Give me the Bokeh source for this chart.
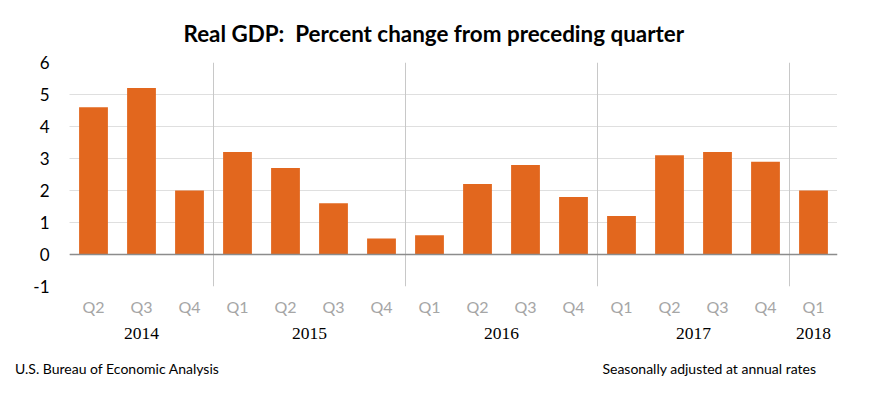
from bokeh.plotting import figure
from bokeh.models import FactorRange, Range1d, FixedTicker, Span, Div
from bokeh.layouts import column
from bokeh.embed import file_html
from bokeh.resources import INLINE

years = ["2014", "2014", "2014", "2015", "2015", "2015", "2015", "2016", "2016", "2016", "2016",
         "2017", "2017", "2017", "2017", "2018"]
quarters = ["Q2", "Q3", "Q4", "Q1", "Q2", "Q3", "Q4", "Q1", "Q2", "Q3", "Q4",
            "Q1", "Q2", "Q3", "Q4", "Q1"]
gdp = [4.6, 5.2, 2.0, 3.2, 2.7, 1.6, 0.5, 0.6, 2.2, 2.8, 1.8, 1.2, 3.1, 3.2, 2.9, 2.0]
y_ticks = [-1, 0, 1, 2, 3, 4, 5, 6]
source_note = "U.S. Bureau of Economic Analysis"
rate_note = "Seasonally adjusted at annual rates"

FONT = "Lato"
factors = list(zip(years, quarters))
year_list = list(dict.fromkeys(years))
xr = FactorRange(*factors, factor_padding=0, group_padding=0, range_padding=0)

p = figure(width=867, height=320, output_backend="svg", toolbar_location=None,
           x_range=xr, y_range=Range1d(-1, 6),
           min_border_left=69, min_border_right=30, min_border_top=62, min_border_bottom=34)
p.outline_line_color = None
p.background_fill_color = "white"
p.border_fill_color = "white"

p.title.text = "Real GDP:\u00a0 Percent change from preceding quarter"
p.title.text_font = FONT
p.title.text_font_size = "22.4px"
p.title.text_font_style = "bold"
p.title.align = "left"
p.title.text_color = "#000000"
p.title.offset = 114
p.title.standoff = 32

# bars
p.vbar(x=factors, top=gdp, width=0.6, fill_color="#E2671E", line_color=None)

# grid
p.xgrid.grid_line_color = None
p.ygrid.ticker = FixedTicker(ticks=y_ticks)
p.ygrid.grid_line_color = "#bfbfbf"
p.ygrid.grid_line_dash = "1 1"
p.ygrid.grid_line_width = 1

# zero line
p.add_layout(Span(location=0, dimension="width", line_color="#8c8c8c", line_width=1.5))

# year separators
seps = []
for i in range(1, len(years)):
    if years[i] != years[i - 1]:
        seps.append((years[i], quarters[i], -0.5))
p.segment(x0=seps, x1=seps, y0=[y_ticks[0]] * len(seps), y1=[y_ticks[-1]] * len(seps),
          line_color="#c8c8c8", line_width=1)

# y axis
p.yaxis.ticker = FixedTicker(ticks=y_ticks)
p.yaxis.major_label_overrides = {t: str(t) for t in y_ticks}
p.yaxis.axis_line_color = None
p.yaxis.major_tick_line_color = None
p.yaxis.minor_tick_line_color = None
p.yaxis.major_label_text_font = FONT
p.yaxis.major_label_text_font_size = "17px"
p.yaxis.major_label_text_color = "#000000"
p.yaxis.major_label_standoff = 14

# x axis (quarters)
p.xaxis.axis_line_color = None
p.xaxis.major_tick_line_color = None
p.xaxis.minor_tick_line_color = None
p.xaxis.major_label_text_font = FONT
p.xaxis.major_label_text_font_size = "16px"
p.xaxis.major_label_text_color = "#a6a6a6"
p.xaxis.major_label_standoff = 4
p.xaxis.group_text_color = None
p.xaxis.separator_line_color = None

# year labels row (shares the category axis)
py = figure(width=867, height=26, output_backend="svg", toolbar_location=None,
            x_range=xr, y_range=Range1d(0, 1),
            min_border_left=69, min_border_right=30, min_border_top=0, min_border_bottom=0)
py.axis.visible = False
py.grid.visible = False
py.outline_line_color = None
py.text(x=year_list, y=[0.5] * len(year_list), text=year_list, text_font=FONT,
        text_font_size="17.5px", text_color="#000000", text_align="center",
        text_baseline="middle")

# footer row
footer = Div(
    text=('<div style="position:relative;width:867px;height:39px;font-family:Lato;'
          'font-size:14px;color:#000;white-space:nowrap">'
          f'<span style="position:absolute;left:15px;top:13px">{source_note}</span>'
          f'<span style="position:absolute;right:51px;top:13px">{rate_note}</span></div>'),
    width=867, height=39, margin=0)

layout = column(p, py, footer, spacing=0)
open("out.html", "w").write(file_html(layout, INLINE))
